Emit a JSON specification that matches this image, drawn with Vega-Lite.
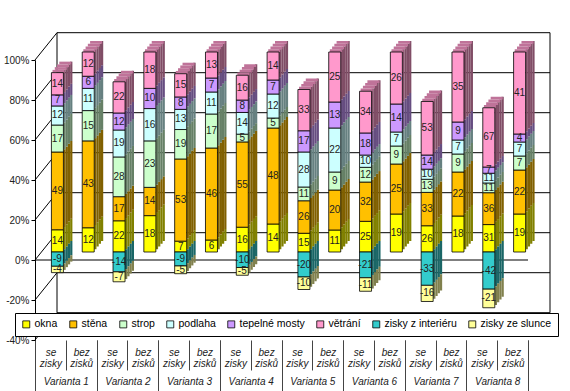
{
  "$schema": "https://vega.github.io/schema/vega-lite/v6.json",
  "width": 493,
  "height": 280,
  "autosize": {"type": "none"},
  "padding": {"left": 35, "top": 60, "right": 42, "bottom": 51},
  "background": "white",
  "config": {
    "view": {"stroke": null},
    "font": "Liberation Sans"
  },
  "resolve": {"scale": {"x": "independent"}, "axis": {"x": "independent", "y": "independent"}},
  "layer": [
    {
      "data": {"values": [{}]},
      "mark": {"type": "rect", "fill": "white", "stroke": "#000", "strokeWidth": 1, "xOffset": 22, "x2Offset": 22, "yOffset": -27.3, "y2Offset": -27.3},
      "encoding": {
        "x": {"datum": 0, "type": "quantitative", "scale": {"domain": [0, 1]}, "axis": null},
        "x2": {"datum": 1},
        "y": {"datum": 1, "type": "quantitative", "axis": null, "scale": {"domain": [-0.4, 1], "nice": false, "zero": false}},
        "y2": {"datum": -0.4}
      }
    },
    {
      "data": {"values": [{"v": -0.2}, {"v": 0}, {"v": 0.2}, {"v": 0.4}, {"v": 0.6}, {"v": 0.8}]},
      "mark": {"type": "rule", "color": "#000", "strokeWidth": 1, "xOffset": 22, "x2Offset": 22, "yOffset": -27.3, "y2Offset": -27.3},
      "encoding": {
        "x": {"datum": 0, "type": "quantitative", "scale": {"domain": [0, 1]}, "axis": null},
        "x2": {"datum": 1},
        "y": {"field": "v", "type": "quantitative", "axis": null},
        "y2": {"field": "v"}
      }
    },
    {
      "data": {"values": [{"v": -0.4}, {"v": -0.2}, {"v": 0}, {"v": 0.2}, {"v": 0.4}, {"v": 0.6}, {"v": 0.8}, {"v": 1}]},
      "mark": {"type": "rule", "color": "#000", "strokeWidth": 1, "x2Offset": 22, "y2Offset": -27.3},
      "encoding": {
        "x": {"datum": 0, "type": "quantitative", "scale": {"domain": [0, 1]}, "axis": null},
        "x2": {"datum": 0},
        "y": {"field": "v", "type": "quantitative", "axis": null},
        "y2": {"field": "v"}
      }
    },
    {
      "data": {"values": [{"v": 0}]},
      "mark": {"type": "rule", "color": "#000", "strokeWidth": 1},
      "encoding": {
        "x": {"datum": 0, "type": "quantitative", "scale": {"domain": [0, 1]}, "axis": null},
        "x2": {"datum": 1},
        "y": {
          "field": "v", "type": "quantitative", "title": null,
          "scale": {"domain": [-0.4, 1], "nice": false, "zero": false},
          "axis": {
            "orient": "left", "title": null,
            "values": [-0.4, -0.2, 0, 0.2, 0.4, 0.6, 0.8, 1],
            "labelExpr": "round(datum.value*100) + '%'",
            "labelOverlap": false,
            "grid": false, "domain": true, "domainColor": "#000",
            "tickColor": "#000", "tickSize": 4, "labelPadding": 2,
            "labelFontSize": 10, "labelColor": "#222", "labelFont": "Liberation Sans"
          }
        }
      }
    },
    {
      "data": {
        "values": [
          {"bar": "1 se zisky", "okna": 14, "stěna": 49, "strop": 17, "podlaha": 12, "tepelné mosty": 7, "větrání": 14, "zisky z interiéru": -9, "zisky ze slunce": -4},
          {"bar": "1 bez zisků", "okna": 12, "stěna": 43, "strop": 15, "podlaha": 11, "tepelné mosty": 6, "větrání": 12},
          {"bar": "2 se zisky", "okna": 22, "stěna": 17, "strop": 28, "podlaha": 19, "tepelné mosty": 12, "větrání": 22, "zisky z interiéru": -14, "zisky ze slunce": -7},
          {"bar": "2 bez zisků", "okna": 18, "stěna": 14, "strop": 23, "podlaha": 16, "tepelné mosty": 10, "větrání": 18},
          {"bar": "3 se zisky", "okna": 7, "stěna": 53, "strop": 19, "podlaha": 13, "tepelné mosty": 8, "větrání": 15, "zisky z interiéru": -9, "zisky ze slunce": -5},
          {"bar": "3 bez zisků", "okna": 6, "stěna": 46, "strop": 17, "podlaha": 11, "tepelné mosty": 7, "větrání": 13},
          {"bar": "4 se zisky", "okna": 16, "stěna": 55, "strop": 5, "podlaha": 14, "tepelné mosty": 8, "větrání": 16, "zisky z interiéru": -10, "zisky ze slunce": -5},
          {"bar": "4 bez zisků", "okna": 14, "stěna": 48, "strop": 5, "podlaha": 12, "tepelné mosty": 7, "větrání": 14},
          {"bar": "5 se zisky", "okna": 15, "stěna": 26, "strop": 11, "podlaha": 28, "tepelné mosty": 17, "větrání": 33, "zisky z interiéru": -20, "zisky ze slunce": -10},
          {"bar": "5 bez zisků", "okna": 11, "stěna": 20, "strop": 9, "podlaha": 22, "tepelné mosty": 13, "větrání": 25},
          {"bar": "6 se zisky", "okna": 25, "stěna": 32, "strop": 12, "podlaha": 10, "tepelné mosty": 18, "větrání": 34, "zisky z interiéru": -21, "zisky ze slunce": -11},
          {"bar": "6 bez zisků", "okna": 19, "stěna": 25, "strop": 9, "podlaha": 7, "tepelné mosty": 14, "větrání": 26},
          {"bar": "7 se zisky", "okna": 26, "stěna": 33, "strop": 13, "podlaha": 10, "tepelné mosty": 14, "větrání": 53, "zisky z interiéru": -33, "zisky ze slunce": -16},
          {"bar": "7 bez zisků", "okna": 18, "stěna": 22, "strop": 9, "podlaha": 7, "tepelné mosty": 9, "větrání": 35},
          {"bar": "8 se zisky", "okna": 31, "stěna": 36, "strop": 11, "podlaha": 11, "tepelné mosty": 7, "větrání": 67, "zisky z interiéru": -42, "zisky ze slunce": -21},
          {"bar": "8 bez zisků", "okna": 19, "stěna": 22, "strop": 7, "podlaha": 7, "tepelné mosty": 4, "větrání": 41}
        ]
      },
      "transform": [
        {"fold": ["okna", "stěna", "strop", "podlaha", "tepelné mosty", "větrání", "zisky z interiéru", "zisky ze slunce"], "as": ["category", "value"]},
        {"filter": "isValid(datum.value)"},
        {"calculate": "indexof(['okna','stěna','strop','podlaha','tepelné mosty','větrání','zisky z interiéru','zisky ze slunce'], datum.category)", "as": "order"},
        {"calculate": "abs(datum.value)", "as": "absval"},
        {"joinaggregate": [{"op": "sum", "field": "absval", "as": "total"}], "groupby": ["bar"]},
        {"calculate": "datum.value / datum.total", "as": "share"},
        {"stack": "share", "groupby": ["bar"], "sort": [{"field": "order", "order": "ascending"}], "as": ["s0", "s1"]},
        {"calculate": "(datum.s0 + datum.s1) / 2", "as": "mid"}
      ],
      "encoding": {
        "x": {
          "field": "bar", "type": "nominal",
          "scale": {"type": "band", "paddingInner": 0, "paddingOuter": 0,
            "domain": ["1 se zisky", "1 bez zisků", "2 se zisky", "2 bez zisků", "3 se zisky", "3 bez zisků", "4 se zisky", "4 bez zisků", "5 se zisky", "5 bez zisků", "6 se zisky", "6 bez zisků", "7 se zisky", "7 bez zisků", "8 se zisky", "8 bez zisků"]},
          "axis": {
            "title": null, "domain": false, "tickBand": "extent", "tickSize": 30, "tickColor": "#444",
            "labelPadding": -23, "labelExpr": "slice(split(datum.label, ' '), 1)",
            "labelFontStyle": "italic", "labelFontSize": 10, "labelLineHeight": 11,
            "labelColor": "#222", "labelAngle": 0, "labelBaseline": "top", "labelFont": "Liberation Sans"
          }
        }
      },
      "layer": [
        {
          "mark": {"type": "bar", "width": 2.25, "xOffset": 20.875, "yOffset": -19, "y2Offset": -19},
          "encoding": {
            "y": {"field": "s1", "type": "quantitative", "axis": null},
            "y2": {"field": "s0"},
            "fill": {"field": "category", "type": "nominal", "legend": null,
              "scale": {"domain": ["zisky ze slunce", "zisky z interiéru", "větrání", "tepelné mosty", "podlaha", "strop", "stěna", "okna"],
                "range": ["#80804D", "#1A6666", "#804D66", "#664D80", "#668080", "#668066", "#806000", "#808000"]}}
          }
        },
        {
          "mark": {"type": "bar", "width": 2.25, "xOffset": 18.625, "yOffset": -16.25, "y2Offset": -16.25},
          "encoding": {
            "y": {"field": "s1", "type": "quantitative", "axis": null},
            "y2": {"field": "s0"},
            "fill": {"field": "category", "type": "nominal", "legend": null}
          }
        },
        {
          "mark": {"type": "bar", "width": 2.25, "xOffset": 16.375, "yOffset": -13.5, "y2Offset": -13.5},
          "encoding": {
            "y": {"field": "s1", "type": "quantitative", "axis": null},
            "y2": {"field": "s0"},
            "fill": {"field": "category", "type": "nominal", "legend": null}
          }
        },
        {
          "mark": {"type": "bar", "width": 2.25, "xOffset": 14.125, "yOffset": -10.75, "y2Offset": -10.75},
          "encoding": {
            "y": {"field": "s1", "type": "quantitative", "axis": null},
            "y2": {"field": "s0"},
            "fill": {"field": "category", "type": "nominal", "legend": null}
          }
        },
        {
          "transform": [{"filter": "datum.category === 'větrání'"}],
          "mark": {"type": "bar", "width": 12, "color": "#BF7399", "xOffset": 14.875, "yOffset": -19, "y2Offset": -16.25},
          "encoding": {"y": {"field": "s1", "type": "quantitative", "axis": null}, "y2": {"field": "s1"}}
        },
        {
          "transform": [{"filter": "datum.category === 'větrání'"}],
          "mark": {"type": "bar", "width": 12, "color": "#BF7399", "xOffset": 12.625, "yOffset": -16.25, "y2Offset": -13.5},
          "encoding": {"y": {"field": "s1", "type": "quantitative", "axis": null}, "y2": {"field": "s1"}}
        },
        {
          "transform": [{"filter": "datum.category === 'větrání'"}],
          "mark": {"type": "bar", "width": 12, "color": "#BF7399", "xOffset": 10.375, "yOffset": -13.5, "y2Offset": -10.75},
          "encoding": {"y": {"field": "s1", "type": "quantitative", "axis": null}, "y2": {"field": "s1"}}
        },
        {
          "transform": [{"filter": "datum.category === 'větrání'"}],
          "mark": {"type": "bar", "width": 12, "color": "#BF7399", "xOffset": 8.125, "yOffset": -10.75, "y2Offset": -8},
          "encoding": {"y": {"field": "s1", "type": "quantitative", "axis": null}, "y2": {"field": "s1"}}
        },
        {
          "mark": {"type": "bar", "width": 12, "xOffset": 7, "yOffset": -8, "y2Offset": -8, "stroke": "#000", "strokeWidth": 0.8},
          "encoding": {
            "y": {"field": "s1", "type": "quantitative", "axis": null},
            "y2": {"field": "s0"},
            "color": {
              "field": "category", "type": "nominal",
              "scale": {"domain": ["okna", "stěna", "strop", "podlaha", "tepelné mosty", "větrání", "zisky z interiéru", "zisky ze slunce"],
                "range": ["#FFFF00", "#FFC000", "#CCFFCC", "#CCFFFF", "#CC99FF", "#FF99CC", "#33CCCC", "#FFFF99"]},
              "legend": {
                "title": null, "orient": "none", "legendX": -20, "legendY": 253,
                "direction": "horizontal", "columns": 8, "columnPadding": 10,
                "symbolType": "square", "symbolSize": 49, "symbolStrokeColor": "#000", "symbolStrokeWidth": 0.8,
                "labelFontSize": 10.5, "labelColor": "#000", "labelFont": "Liberation Sans", "labelOffset": 3,
                "fillColor": "#fff", "strokeColor": "#000", "padding": 6, "zindex": 1
              }
            }
          }
        },
        {
          "mark": {"type": "text", "xOffset": 7, "yOffset": -8, "fontSize": 10, "color": "#222", "font": "Liberation Sans", "align": "center", "baseline": "middle"},
          "encoding": {
            "y": {"field": "mid", "type": "quantitative", "axis": null},
            "text": {"field": "value", "type": "nominal"}
          }
        }
      ]
    },
    {
      "data": {"values": [{"variant": "Varianta 1"}, {"variant": "Varianta 2"}, {"variant": "Varianta 3"}, {"variant": "Varianta 4"}, {"variant": "Varianta 5"}, {"variant": "Varianta 6"}, {"variant": "Varianta 7"}, {"variant": "Varianta 8"}]},
      "mark": {"type": "point", "opacity": 0},
      "encoding": {
        "x": {
          "field": "variant", "type": "nominal",
          "scale": {"type": "band", "paddingInner": 0, "paddingOuter": 0},
          "axis": {
            "orient": "bottom", "title": null, "domain": false, "tickBand": "extent", "tickSize": 51, "tickColor": "#444",
            "labelPadding": -15, "labelFontStyle": "italic", "labelFontSize": 10, "labelColor": "#222",
            "labelAngle": 0, "labelBaseline": "top", "labelFont": "Liberation Sans"
          }
        }
      }
    }
  ]
}
